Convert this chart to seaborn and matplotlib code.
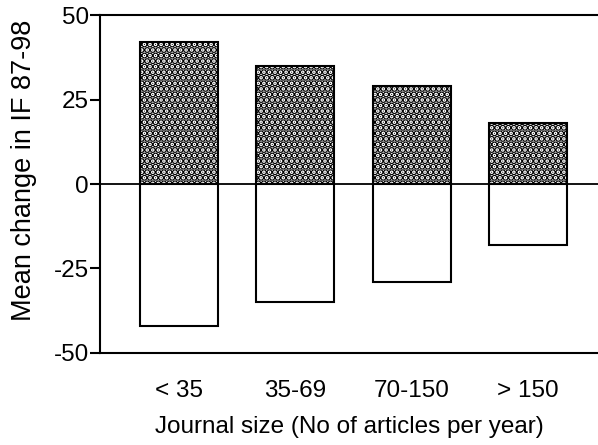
import numpy as np
import pandas as pd
import matplotlib
matplotlib.use('Agg')
import matplotlib.pyplot as plt
import seaborn as sns

# journal size groups and mean change in IF (87-98)
categories = ['< 35', '35-69', '70-150', '> 150']
gains = [42, 35, 29, 18]
losses = [-42, -35, -29, -18]
y_ticks = [-50, -25, 0, 25, 50]

sns.set_style('white')
plt.rcParams['font.family'] = ['Liberation Sans', 'DejaVu Sans']
plt.rcParams['hatch.linewidth'] = 3.4
plt.rcParams['text.color'] = 'black'
plt.rcParams['axes.labelcolor'] = 'black'
plt.rcParams['xtick.color'] = 'black'
plt.rcParams['ytick.color'] = 'black'

df = pd.DataFrame({'size': categories, 'gain': gains, 'loss': losses})

fig = plt.figure(figsize=(5.98, 4.45), dpi=100)
ax = fig.add_axes([0.167, 0.207, 0.833, 0.759])

sns.barplot(data=df, x='size', y='gain', ax=ax, color='white', edgecolor='black',
            linewidth=1.5, width=0.67, hatch='...', saturation=1)
sns.barplot(data=df, x='size', y='loss', ax=ax, color='white', edgecolor='black',
            linewidth=1.5, width=0.67, saturation=1)

ax.axhline(0, color='black', lw=1.3, zorder=5)
ax.set_xlim(-0.68, 3.6)
ax.set_ylim(-50, 50)
ax.set_yticks(y_ticks)
ax.set_yticklabels([str(t) for t in y_ticks])

ax.spines['right'].set_visible(False)
for s in ['left', 'top', 'bottom']:
    ax.spines[s].set_linewidth(1.5)
    ax.spines[s].set_color('black')

ax.tick_params(axis='y', left=True, length=7, width=1.5, labelsize=17.5, pad=1, direction='out')
ax.tick_params(axis='x', bottom=False, labelsize=17.5, pad=16)

ax.set_xlabel('Journal size (No of articles per year)', fontsize=17.5, labelpad=10)
ax.set_ylabel('Mean change in IF 87-98', fontsize=19.5, labelpad=5)
ax.yaxis.set_label_coords(-0.127, 0.54)

fig.savefig('out.png', dpi=100)
